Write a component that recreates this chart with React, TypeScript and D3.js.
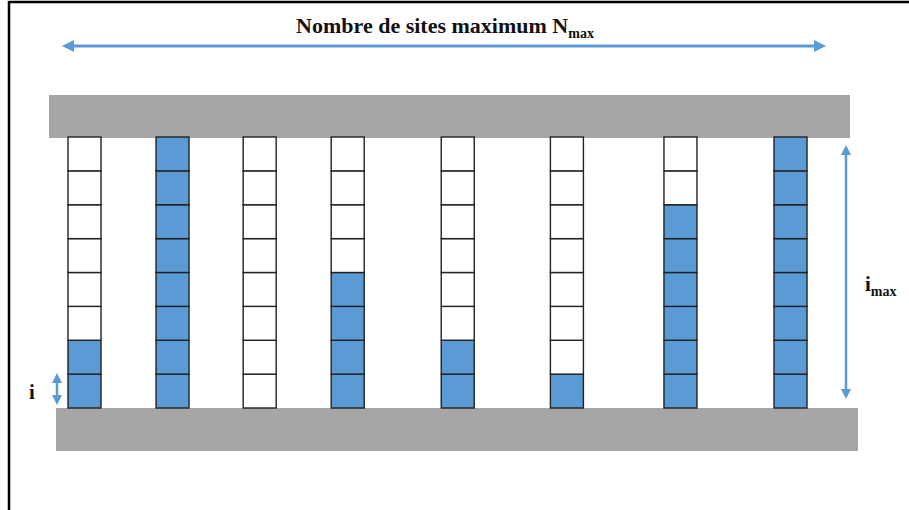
import * as d3 from "d3";

// sites (columns) and number of occupied cells in each, counted from the bottom
const sites = ["s1", "s2", "s3", "s4", "s5", "s6", "s7", "s8"];
const sitePos = [0, 1, 1.99, 2.99, 4.24, 5.48, 6.77, 8.02];
const filled = [2, 8, 0, 4, 2, 1, 6, 8];
const iMax = 8;

const W = 909;
const H = 510;
const BLUE = "#5b9bd5";
const GRAY = "#a6a6a6";
const FONT = "'Liberation Serif', 'DejaVu Serif', serif";

const App = () => {
  const x = d3.scaleLinear().domain([0, 8.02]).range([84.5, 790.5]);
  const y = d3.scaleLinear().domain([0, iMax]).range([408, 137]);
  const cellW = 33;
  const levels = d3.range(iMax);

  const arrowHead = (id: string) => (
    <marker
      id={id}
      viewBox="0 0 10 10"
      refX="5"
      refY="5"
      markerWidth="4"
      markerHeight="4"
      orient="auto-start-reverse"
    >
      <path d="M0,0 L10,5 L0,10 z" fill={BLUE} />
    </marker>
  );

  return (
    <svg
      width={W}
      height={H}
      style={{ position: "absolute", left: 0, top: 0, background: "#fff" }}
    >
      <defs>{arrowHead("ah")}</defs>

      {/* frame */}
      <line x1={9} y1={2} x2={W} y2={2} stroke="#000" strokeWidth={2.5} />
      <line x1={9} y1={1} x2={9} y2={H} stroke="#000" strokeWidth={2.5} />

      {/* title */}
      <text
        x={445}
        y={33}
        textAnchor="middle"
        fontFamily={FONT}
        fontWeight="bold"
        fontSize={22}
        fill="#111"
      >
        Nombre de sites maximum N
        <tspan fontSize={14} dy={5}>
          max
        </tspan>
      </text>
      <line
        x1={68}
        y1={46}
        x2={820}
        y2={46}
        stroke={BLUE}
        strokeWidth={3}
        markerStart="url(#ah)"
        markerEnd="url(#ah)"
      />

      {/* walls */}
      <rect x={49} y={95} width={801} height={43} fill={GRAY} />
      <rect x={56} y={408} width={802} height={43} fill={GRAY} />

      {/* columns of cells */}
      {sites.map((s, si) => (
        <g key={s}>
          {levels.map((lv) => (
            <rect
              key={lv}
              x={x(sitePos[si]) - cellW / 2}
              y={y(lv + 1)}
              width={cellW}
              height={y(lv) - y(lv + 1)}
              fill={lv < filled[si] ? BLUE : "#fff"}
              stroke="#222"
              strokeWidth={1.4}
            />
          ))}
        </g>
      ))}

      {/* i_max arrow */}
      <line
        x1={846}
        y1={150}
        x2={846}
        y2={394}
        stroke={BLUE}
        strokeWidth={2.5}
        markerStart="url(#ah)"
        markerEnd="url(#ah)"
      />
      <text
        x={865}
        y={291}
        fontFamily={FONT}
        fontWeight="bold"
        fontSize={21}
        fill="#111"
      >
        i
        <tspan fontSize={14} dy={5}>
          max
        </tspan>
      </text>

      {/* i arrow */}
      <line
        x1={57}
        y1={378}
        x2={57}
        y2={400}
        stroke={BLUE}
        strokeWidth={2.5}
        markerStart="url(#ah)"
        markerEnd="url(#ah)"
      />
      <text
        x={32}
        y={399}
        textAnchor="middle"
        fontFamily={FONT}
        fontWeight="bold"
        fontSize={21}
        fill="#111"
      >
        i
      </text>
    </svg>
  );
};

export default App;
